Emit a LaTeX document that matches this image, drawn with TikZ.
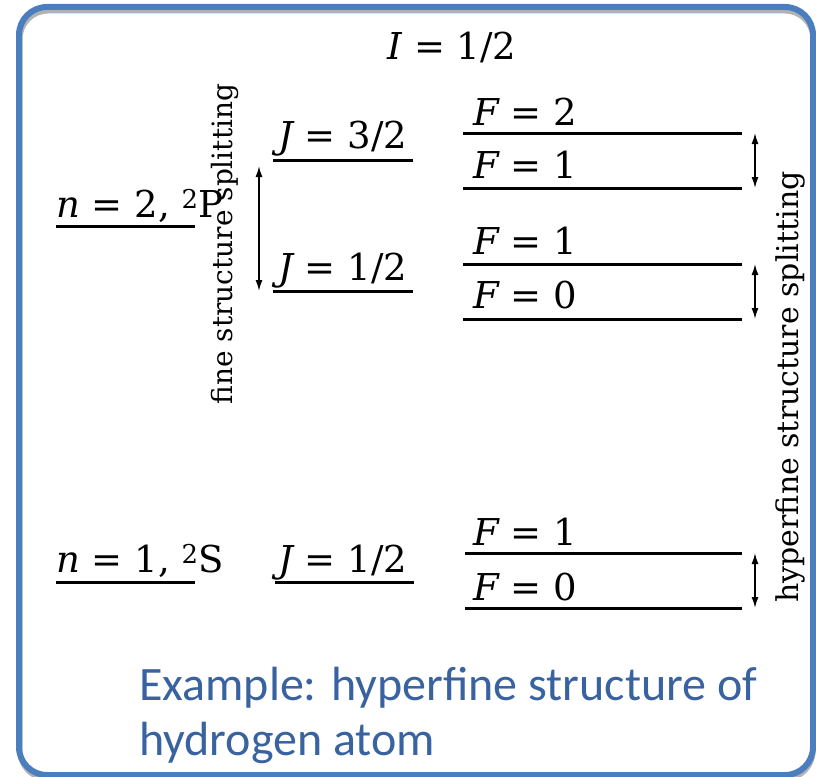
\documentclass[tikz,border=0pt]{standalone}
\usepackage{fontspec}
\setmainfont{DejaVu Serif}
\newfontfamily\capfont{Carlito}
\usetikzlibrary{arrows.meta}
\definecolor{framebl}{HTML}{4A7EBF}
\definecolor{capbl}{HTML}{3862A0}

\begin{document}
\begin{tikzpicture}[
  x=1bp, y=-1bp,
  lvl/.style={line width=3bp},
  lab/.style={anchor=base west, inner sep=0pt, font=\fontsize{37bp}{40bp}\selectfont},
  split/.style={rotate=90, inner sep=0pt, font=\fontsize{28bp}{30bp}\selectfont},
  arr/.style={{Latex[length=11bp,width=7bp]}-{Latex[length=11bp,width=7bp]}, line width=1.5bp}
]
\useasboundingbox (0,0) rectangle (816,777);
% frame with shadow
\draw[line width=5bp, gray!60, rounded corners=28bp] (20,11) rectangle (813,779);
\draw[line width=6bp, framebl, rounded corners=28bp] (19,7) rectangle (813,775);

% level ends, n = 2
\coordinate (n2a) at (56,226); \coordinate (n2b) at (195,226);
\coordinate (j3a) at (273,160); \coordinate (j3b) at (413,160);
\coordinate (j1a) at (273,291); \coordinate (j1b) at (413,291);
\coordinate (f2a) at (463,133); \coordinate (f2b) at (742,133);
\coordinate (f1a) at (463,188); \coordinate (f1b) at (742,188);
\coordinate (g1a) at (463,264); \coordinate (g1b) at (742,264);
\coordinate (g0a) at (463,319); \coordinate (g0b) at (742,319);
% level ends, n = 1
\coordinate (n1a) at (56,582); \coordinate (n1b) at (195,582);
\coordinate (sja) at (275,582); \coordinate (sjb) at (414,582);
\coordinate (s1a) at (465,553); \coordinate (s1b) at (742,553);
\coordinate (s0a) at (465,608); \coordinate (s0b) at (742,608);
% arrow ends
\coordinate (fsup) at (259,166); \coordinate (fsdn) at (259,291);
\coordinate (hfaup) at (755,133); \coordinate (hfadn) at (755,188);
\coordinate (hfbup) at (755,264); \coordinate (hfbdn) at (755,319);
\coordinate (hfcup) at (755,553); \coordinate (hfcdn) at (755,608);

\draw[lvl] (n2a) -- (n2b);
\draw[lvl] (j3a) -- (j3b);
\draw[lvl] (j1a) -- (j1b);
\draw[lvl] (f2a) -- (f2b);
\draw[lvl] (f1a) -- (f1b);
\draw[lvl] (g1a) -- (g1b);
\draw[lvl] (g0a) -- (g0b);
\draw[lvl] (n1a) -- (n1b);
\draw[lvl] (sja) -- (sjb);
\draw[lvl] (s1a) -- (s1b);
\draw[lvl] (s0a) -- (s0b);

\node[lab, anchor=base] (spin) at (452,60) {\itshape I\upshape{} = 1/2};
\node[lab] (n2) at (56,217) {\itshape n\upshape{} = 2, \textsuperscript{2}P};
\node[lab] (j3) at (278,148) {\itshape J\upshape{} = 3/2};
\node[lab] (j1) at (278,280) {\itshape J\upshape{} = 1/2};
\node[lab] (f2) at (473,125) {\itshape F\upshape{} = 2};
\node[lab] (f1) at (473,178) {\itshape F\upshape{} = 1};
\node[lab] (g1) at (473,254) {\itshape F\upshape{} = 1};
\node[lab] (g0) at (473,308) {\itshape F\upshape{} = 0};
\node[lab] (n1) at (56,572) {\itshape n\upshape{} = 1, \textsuperscript{2}S};
\node[lab] (sj) at (278,572) {\itshape J\upshape{} = 1/2};
\node[lab] (s1) at (473,545) {\itshape F\upshape{} = 1};
\node[lab] (s0) at (473,600) {\itshape F\upshape{} = 0};

\node[split] (fine) at (225,244) {fine structure splitting};
\node[split, font=\fontsize{30bp}{32bp}\selectfont] (hyper) at (790,387) {hyperfine structure splitting};

\draw[arr] (fsup) -- (fsdn);
\draw[arr] (hfaup) -- (hfadn);
\draw[arr] (hfbup) -- (hfbdn);
\draw[arr] (hfcup) -- (hfcdn);

\node[anchor=base west, inner sep=0pt, align=left, text=capbl,
  font=\capfont\fontsize{48bp}{55bp}\selectfont] (cap) at (139,755)
  {Example: hyperfine structure of\\hydrogen atom};
\end{tikzpicture}
\end{document}
